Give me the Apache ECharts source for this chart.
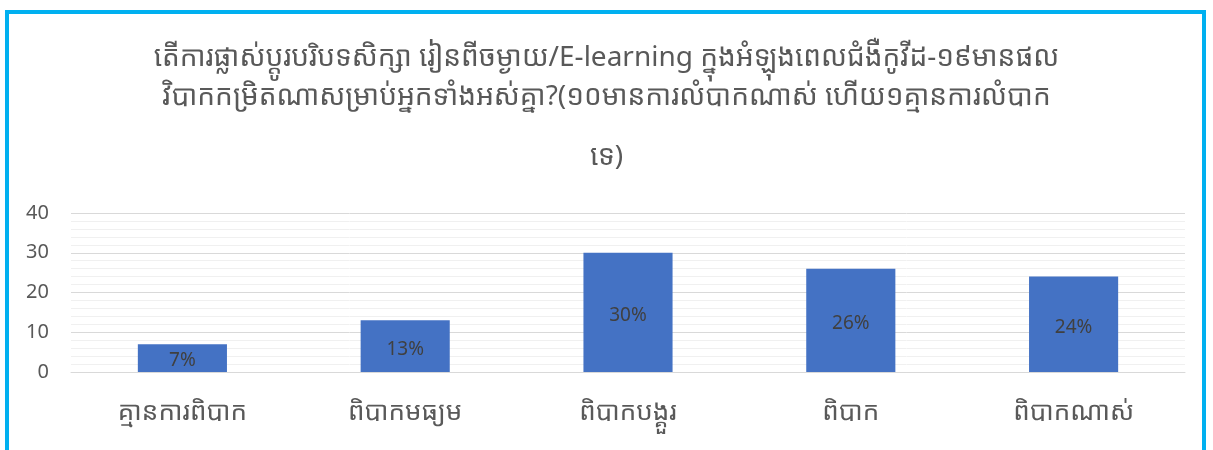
<!DOCTYPE html>
<html><head><meta charset="utf-8">
<script src="https://cdn.jsdelivr.net/npm/echarts@6/dist/echarts.min.js"></script>
<style>html,body{margin:0;padding:0;background:#fff;}#c{width:1213px;height:450px;}
#frame{position:absolute;left:5px;top:10px;width:1201px;height:460px;border:4px solid #00B0F0;box-sizing:border-box;pointer-events:none;}</style>
</head><body><div id="c"></div><div id="frame"></div>
<script>
const titleLines = [
  "តើការផ្លាស់ប្តូរបរិបទសិក្សា រៀនពីចម្ងាយ/E-learning ក្នុងអំឡុងពេលជំងឺកូវីដ-១៩មានផល",
  "វិបាកកម្រិតណាសម្រាប់អ្នកទាំងអស់គ្នា?(១០មានការលំបាកណាស់ ហើយ១គ្មានការលំបាក",
  "ទេ)"
];
const categories = ["គ្មានការពិបាក", "ពិបាកមធ្យម", "ពិបាកបង្គួរ", "ពិបាក", "ពិបាកណាស់"];
const values = [7, 13, 30, 26, 24];
const yTicks = [0, 10, 20, 30, 40];

const font = "'Noto Sans Khmer','Khmer OS','Noto Sans',sans-serif";
const titleTops = [39, 78, 138];
const chart = echarts.init(document.getElementById('c'));
chart.setOption({
  animation: false,
  title: titleLines.map((t, i) => ({
    text: t, left: 'center', top: titleTops[i],
    textStyle: {fontSize: 28, fontWeight: 'normal', color: '#595959', fontFamily: font}
  })),
  grid: {left: 71, right: 28, top: 213, bottom: 78},
  xAxis: {
    type: 'category', data: categories,
    axisLine: {show: true, lineStyle: {color: '#D9D9D9', width: 1}},
    axisTick: {show: false},
    axisLabel: {fontSize: 26, color: '#595959', fontFamily: font, margin: 28}
  },
  yAxis: {
    type: 'value', min: yTicks[0], max: yTicks[yTicks.length - 1], interval: 10,
    axisLine: {show: false}, axisTick: {show: false},
    axisLabel: {fontSize: 20, color: '#595959', fontFamily: font, margin: 22},
    splitLine: {lineStyle: {color: '#D9D9D9', width: 1}},
    minorTick: {show: false, splitNumber: 5},
    minorSplitLine: {show: true, lineStyle: {color: '#F0F0F0', width: 1}}
  },
  series: [{
    type: 'bar', data: values, barWidth: '40%',
    itemStyle: {color: '#4472C4'},
    label: {show: true, position: 'inside', offset: [0, 3], formatter: p => p.value + '%',
      fontSize: 19, color: '#404040', fontFamily: font}
  }]
});
</script></body></html>
